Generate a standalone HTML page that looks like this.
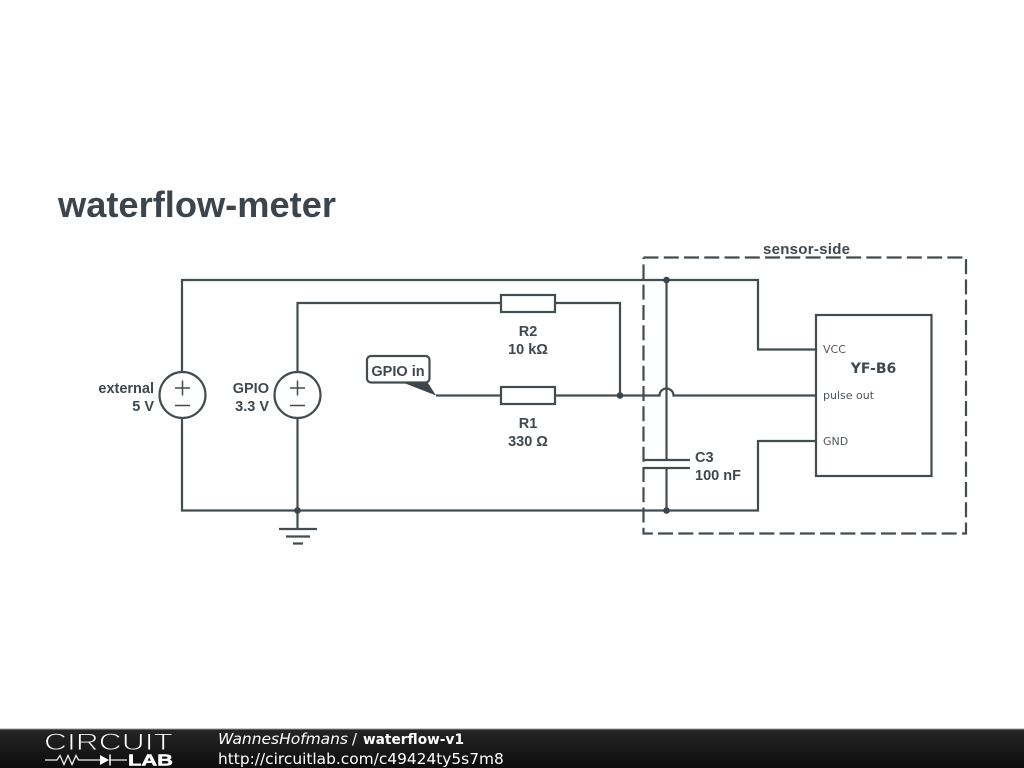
<!DOCTYPE html>
<html><head><meta charset="utf-8"><style>
html,body{margin:0;padding:0;background:#fff;width:1024px;height:768px;overflow:hidden}
svg{display:block}
text{font-family:"Liberation Sans",sans-serif}
.l{font-size:14.5px;font-weight:bold;fill:#3f484e}
.d{font-family:"DejaVu Sans",sans-serif;font-size:11px;fill:#4f575c}
.f{font-family:"DejaVu Sans",sans-serif;fill:#fff}
</style></head><body>
<svg width="1024" height="768" viewBox="0 0 1024 768" xmlns="http://www.w3.org/2000/svg">
<defs><linearGradient id="g" x1="0" y1="0" x2="0" y2="1"><stop offset="0" stop-color="#262626"/><stop offset="1" stop-color="#0c0c0c"/></linearGradient></defs>
<rect width="1024" height="768" fill="#fff"/>
<text x="58" y="217" font-size="36" font-weight="bold" fill="#3c454b" textLength="278" lengthAdjust="spacingAndGlyphs">waterflow-meter</text>
<g fill="none" stroke="#434c51" stroke-width="2.200">
<path d="M643.500 257.500H966V533.500H643.500V257.500" stroke-dasharray="15 5.260"/>
<path d="M182 373V280H758V349.500H816"/>
<path d="M182 417V510.500H758V441H816"/>
<path d="M297.500 373V303H501M555 303H620V395.500"/>
<path d="M297.500 417V529"/>
<path d="M436 395.500H501M555 395.500H659.500a7 7 0 0 1 14 0H816"/>
<path d="M666.500 280V460M666.500 468V510"/>
<path d="M643 460H690M643 468H690"/>
<rect x="501" y="295" width="54" height="17" fill="#fff"/>
<rect x="501" y="387" width="54" height="17" fill="#fff"/>
<rect x="816" y="315" width="115.500" height="161" fill="#fff"/>
<circle cx="182.500" cy="395" r="23" fill="#fff"/>
<circle cx="297.500" cy="395" r="23" fill="#fff"/>
<path stroke-width="1.500" d="M175 388H190M182.500 380.500V395.500M175 405.500H190M290 388H305M297.500 380.500V395.500M290 405.500H305"/>
<path d="M279 529H317M286 536.500H310M293 543.500H303"/>
<rect x="367" y="356" width="62.500" height="26.500" rx="4" fill="#fff"/>
</g>
<path d="M404 383H428L436 395.500Z" fill="#3c454b"/>
<g fill="#3c454b"><circle cx="297.500" cy="510.500" r="3.300"/><circle cx="620" cy="395.500" r="3.300"/><circle cx="666.500" cy="280" r="3.300"/><circle cx="666.500" cy="510.500" r="3.300"/></g>
<text class="l" x="154" y="393" text-anchor="end">external</text>
<text class="l" x="154" y="411" text-anchor="end">5 V</text>
<text class="l" x="269" y="393" text-anchor="end">GPIO</text>
<text class="l" x="269" y="411" text-anchor="end">3.3 V</text>
<text class="l" x="398" y="376" text-anchor="middle">GPIO in</text>
<text class="l" x="528" y="336" text-anchor="middle">R2</text>
<text class="l" x="528" y="354" text-anchor="middle">10 kΩ</text>
<text class="l" x="528" y="428" text-anchor="middle">R1</text>
<text class="l" x="528" y="446" text-anchor="middle">330 Ω</text>
<text class="l" x="695" y="462">C3</text>
<text class="l" x="695" y="480">100 nF</text>
<text class="l" x="763" y="254" textLength="87" lengthAdjust="spacing" style="font-size:15px">sensor-side</text>
<text class="d" x="823" y="353">VCC</text>
<text class="d" x="823" y="399">pulse out</text>
<text class="d" x="823" y="445">GND</text>
<text x="873.500" y="373" text-anchor="middle" style="font-family:'DejaVu Sans',sans-serif;font-size:14px;font-weight:bold;fill:#3f484e">YF-B6</text>
<rect x="0" y="729" width="1024" height="39" fill="url(#g)"/>
<rect x="0" y="728.500" width="1024" height="1" fill="#999"/>
<text x="44" y="750" font-size="24.500" fill="#fff" stroke="#1c1c1c" stroke-width="0.900" textLength="129" lengthAdjust="spacingAndGlyphs">CIRCUIT</text>
<path d="M45 760H57L60 755.500L64 764.500L68 755.500L72 764.500L76 755.500L78.500 760H100M110 760H127" fill="none" stroke="#eee" stroke-width="1.300"/>
<path d="M100 755L109 760L100 765Z" fill="#fff"/>
<path d="M110 754.500V765.500" stroke="#fff" stroke-width="1.500"/>
<text x="128" y="765.500" font-size="15.500" font-weight="bold" fill="#fff" stroke="#fff" stroke-width="0.500" textLength="45" lengthAdjust="spacingAndGlyphs">LAB</text>
<text class="f" x="218" y="744" font-size="15.500" font-style="italic" textLength="130" lengthAdjust="spacing">WannesHofmans</text>
<text class="f" x="352" y="744" font-size="14.700">/</text>
<text class="f" x="363" y="744" font-size="14" font-weight="bold" textLength="101" lengthAdjust="spacingAndGlyphs">waterflow-v1</text>
<text class="f" x="218" y="764" font-size="15.400">http://circuitlab.com/c49424ty5s7m8</text>
</svg>
</body></html>
